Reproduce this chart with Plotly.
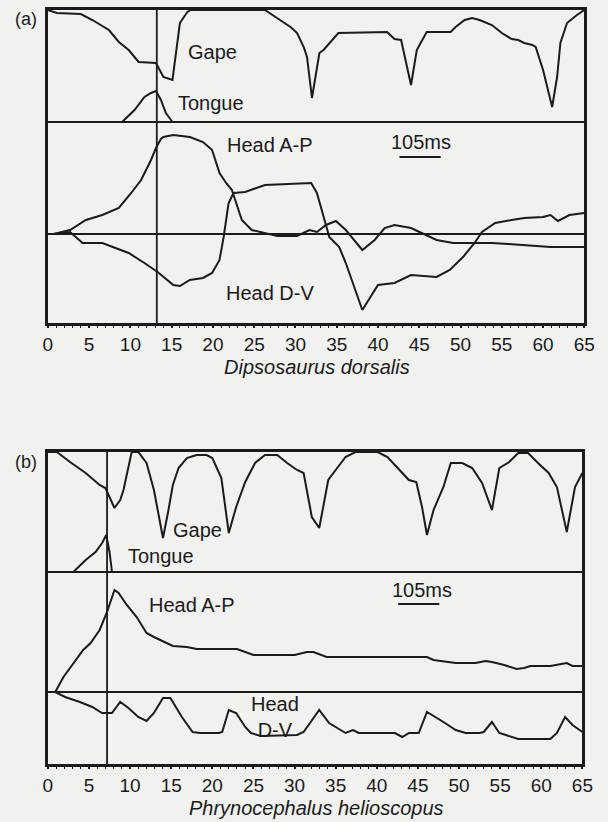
import plotly.graph_objects as go

# ---------------- DATA ----------------
# Panel (a) Dipsosaurus dorsalis
a_gape_x = [0, 1.1, 4.0, 5.4, 7.4, 8.6, 9.8, 11.0, 13.1, 14.0, 15.1, 16.0, 16.9, 17.3,
            26.3, 28.2, 29.4, 30.2, 31.0, 31.4, 32.0, 32.9, 33.4, 35.2, 41.1, 42.0, 42.8,
            44.0, 44.7, 45.9, 48.8, 49.4, 50.5, 51.4, 52.3, 53.8, 55.0, 56.2, 57.0, 57.7,
            58.7, 59.1, 60.0, 61.1, 61.7, 62.1, 62.9, 64.1, 65.0]
a_gape_depth = [0, 3, 4, 10, 20, 32, 40, 52, 53, 67, 70, 13, 2, 0,
                0, 10, 17, 23, 37, 47, 88, 43, 40, 23, 22, 29, 30,
                75, 40, 22, 22, 17, 10, 8, 10, 15, 23, 29, 30, 33,
                35, 37, 60, 97, 67, 33, 13, 5, 0]

a_tongue_x = [9.0, 10.5, 11.7, 12.5, 13.1, 13.7, 14.3, 15.1]
a_tongue = [0, 12, 25, 29, 31, 22, 9, 0]

a_ap_x = [0, 0.7, 2.7, 4.6, 6.6, 8.6, 10.1, 11.3, 12.5, 13.1, 13.7, 14.0, 15.2, 17.2,
          18.8, 19.9, 20.8, 21.6, 22.3, 22.8, 23.5, 24.7, 26.3, 27.8, 30.2, 31.7, 32.6,
          33.7, 34.9, 36.1, 38.1, 39.6, 40.8, 42.0, 44.0, 45.9, 47.1, 49.1, 53.8, 55.8,
          60.9, 65.0]
a_ap = [0, 0, 4, 14, 19, 26, 41, 54, 74, 86, 95, 97, 99, 97,
        92, 84, 61, 51, 44, 31, 14, 4, 1, -2, -2, 4, 2,
        9, 13, 4, -16, -6, 6, 9, 6, -1, -6, -9, -9, -10,
        -13, -13]

a_dv_x = [0, 0.7, 2.7, 4.2, 6.6, 9.8, 11.7, 13.3, 15.2, 16.0, 17.2, 18.8, 19.9, 20.8,
          21.3, 21.9, 22.5, 23.9, 26.3, 30.2, 31.9, 32.6, 33.4, 34.1, 35.3, 36.1, 38.1,
          40.0, 42.0, 44.0, 47.1, 48.7, 50.3, 51.7, 52.6, 54.2, 56.2, 57.7, 60.0, 60.9,
          61.8, 63.2, 65.0]
a_dv = [0, 0, 2, -9, -9, -19, -29, -38, -51, -52, -46, -44, -39, -26,
        -3, 31, 41, 42, 49, 50, 51, 41, 17, -3, -13, -29, -76,
        -51, -49, -41, -43, -36, -23, -9, 2, 11, 14, 16, 17, 19,
        13, 19, 21]

# Panel (b) Phrynocephalus helioscopus
b_gape_x = [0, 1.1, 2.7, 4.6, 6.3, 7.0, 7.5, 8.1, 8.8, 9.2, 9.8, 10.2, 11.0, 12.0,
            12.9, 14.0, 14.6, 15.2, 15.9, 16.9, 18.1, 19.3, 20.0, 21.1, 22.0, 22.9, 24.0,
            25.2, 26.4, 27.9, 29.1, 30.3, 31.1, 32.1, 33.0, 34.1, 35.0, 36.2, 37.4, 40.1,
            41.3, 43.0, 43.9, 44.8, 45.5, 46.1, 46.9, 48.1, 49.0, 50.4, 51.6, 52.8, 54.0,
            54.9, 56.1, 57.2, 58.4, 59.6, 60.9, 61.9, 63.1, 64.1, 65.0]
b_gape_depth = [0, 0, 10, 21, 33, 36, 45, 56, 48, 38, 15, 0, 0, 11,
                38, 86, 61, 33, 16, 6, 3, 3, 6, 26, 81, 55, 30,
                11, 3, 3, 11, 18, 21, 65, 76, 28, 18, 5, 0, 0,
                5, 20, 28, 30, 55, 83, 58, 35, 11, 11, 16, 31, 58,
                16, 10, 1, 1, 11, 21, 35, 80, 35, 21]

b_tongue_x = [3.1, 4.6, 5.8, 6.6, 7.1, 7.5, 7.8]
b_tongue = [0, 12, 20, 29, 37, 20, 0]

b_ap_x = [0, 0.9, 1.9, 3.1, 4.3, 5.2, 6.3, 7.2, 8.1, 8.6, 9.6, 10.8, 12.0, 12.9, 14.1,
          15.2, 16.9, 18.1, 23.0, 25.0, 30.0, 31.5, 32.3, 33.9, 46.1, 46.9, 49.6, 52.0,
          53.2, 54.0, 55.5, 57.0, 57.9, 58.7, 61.1, 63.1, 63.8, 65.0]
b_ap = [0, 0, 15, 29, 42, 49, 62, 80, 102, 99, 87, 75, 59, 55, 50,
        46, 45, 43, 43, 37, 37, 40, 40, 35, 35, 32, 29, 29,
        31, 30, 27, 23, 24, 26, 26, 29, 26, 26]

b_dv_x = [0, 0.9, 2.1, 3.9, 5.4, 6.6, 7.8, 8.8, 9.8, 11.0, 12.0, 12.9, 14.0, 14.9, 16.3,
          17.6, 18.5, 20.8, 21.2, 22.0, 22.9, 24.0, 24.7, 25.9, 30.3, 31.1, 33.0, 34.2,
          36.2, 37.1, 37.8, 42.2, 43.1, 43.9, 45.1, 46.1, 48.1, 49.6, 50.8, 52.5, 53.0,
          54.0, 54.9, 57.2, 61.1, 61.9, 62.9, 63.8, 65.0]
b_dv = [0, 0, -5, -10, -15, -21, -21, -10, -16, -25, -29, -21, -6, -6, -25,
        -40, -41, -41, -40, -18, -21, -35, -41, -44, -43, -40, -18, -31,
        -41, -38, -41, -41, -45, -41, -41, -20, -30, -38, -41, -41, -40,
        -30, -41, -47, -47, -41, -25, -33, -40]

# event markers (tongue-prey contact) and scale bar (frames)
a_contact = 13.2
b_contact = 7.2
scale_bar = [42.6, 47.6]
tick_vals = list(range(0, 66, 5))
tick_text = [str(v) for v in tick_vals]

# ---------------- FIGURE ----------------
W, H = 608, 822
INK = "#1b1b1b"
BG = "#f1f1ef"
FONT = "Liberation Sans, Arial, Helvetica, sans-serif"

# per panel: y-range in display units, with divider and top level
A = dict(bottom=-89, top=224, div=112)
B = dict(bottom=-72, top=240, div=120)

fig = go.Figure()

def add_line(x, y, xa, ya):
    fig.add_trace(go.Scatter(x=x, y=y, mode="lines", xaxis=xa, yaxis=ya,
                             line=dict(color=INK, width=2), showlegend=False,
                             hoverinfo="skip"))

add_line(a_gape_x, [A["top"] - d for d in a_gape_depth], "x", "y")
add_line(a_tongue_x, [A["div"] + v for v in a_tongue], "x", "y")
add_line(a_ap_x, a_ap, "x", "y")
add_line(a_dv_x, a_dv, "x", "y")

add_line(b_gape_x, [B["top"] - d for d in b_gape_depth], "x2", "y2")
add_line(b_tongue_x, [B["div"] + v for v in b_tongue], "x2", "y2")
add_line(b_ap_x, b_ap, "x2", "y2")
add_line(b_dv_x, b_dv, "x2", "y2")

def px_x(p):
    return p / W

def px_y(p):
    return 1 - p / H

xaxis_common = dict(range=[0, 65], showline=True, mirror=True, linecolor=INK, linewidth=2.5,
                    showgrid=False, zeroline=False, ticks="outside", ticklen=2, tickwidth=1.5,
                    tickcolor=INK, tickvals=tick_vals, ticktext=tick_text,
                    tickfont=dict(family=FONT, size=19, color=INK),
                    minor=dict(ticks="outside", ticklen=2, tickwidth=1, tickcolor=INK, dtick=1),
                    fixedrange=True)
yaxis_common = dict(showline=True, mirror=True, linecolor=INK, linewidth=2.5, showgrid=False,
                    zeroline=False, showticklabels=False, ticks="", fixedrange=True)

fig.update_layout(
    width=W, height=H, margin=dict(l=0, r=0, t=0, b=0),
    paper_bgcolor=BG, plot_bgcolor=BG, showlegend=False,
    xaxis=dict(xaxis_common, domain=[px_x(44), px_x(595)], anchor="y"),
    yaxis=dict(yaxis_common, domain=[px_y(323), px_y(10)], range=[A["bottom"], A["top"]], anchor="x"),
    xaxis2=dict(xaxis_common, domain=[px_x(44), px_x(593)], anchor="y2"),
    yaxis2=dict(yaxis_common, domain=[px_y(764), px_y(452)], range=[B["bottom"], B["top"]], anchor="x2"),
)

# divider, baseline and contact lines
for xr, yr, P, c in (("x", "y", A, a_contact), ("x2", "y2", B, b_contact)):
    for yv in (P["div"], 0):
        fig.add_shape(type="line", xref=xr + " domain", yref=yr, x0=0, x1=1, y0=yv, y1=yv,
                      line=dict(color=INK, width=1.8))
    fig.add_shape(type="line", xref=xr, yref=yr + " domain", x0=c, x1=c, y0=0, y1=1,
                  line=dict(color=INK, width=1.8))

# scale bars
fig.add_shape(type="line", xref="x", yref="y", x0=scale_bar[0], x1=scale_bar[1], y0=77, y1=77,
              line=dict(color=INK, width=2))
fig.add_shape(type="line", xref="x2", yref="y2", x0=scale_bar[0], x1=scale_bar[1], y0=88, y1=88,
              line=dict(color=INK, width=2))

def label(text, xr, yr, x, y, size=20, italic=False):
    fig.add_annotation(text=text, xref=xr, yref=yr, x=x, y=y, showarrow=False,
                       font=dict(family=FONT, size=size, color=INK,
                                 style="italic" if italic else "normal"),
                       xanchor="center", yanchor="middle")

# panel (a) labels
label("Gape", "x", "y", 19.9, 182)
label("Tongue", "x", "y", 19.8, 131)
label("Head A-P", "x", "y", 26.9, 89)
label("Head D-V", "x", "y", 26.9, -59)
label("105ms", "x", "y", 45.2, 92)
# panel (b) labels
label("Gape", "x2", "y2", 18.2, 162)
label("Tongue", "x2", "y2", 13.7, 136)
label("Head A-P", "x2", "y2", 17.5, 87)
label("Head<br>D-V", "x2", "y2", 27.6, -25)
label("105ms", "x2", "y2", 45.5, 102)

# panel letters and species names
label("(a)", "paper", "paper", px_x(22), px_y(19), size=18)
label("(b)", "paper", "paper", px_x(22), px_y(462), size=18)
label("Dipsosaurus dorsalis", "paper", "paper", px_x(320), px_y(367), size=20, italic=True)
label("Phrynocephalus helioscopus", "paper", "paper", px_x(320), px_y(808), size=20, italic=True)

fig.write_html("out.html", config={"displayModeBar": False},
               post_script="document.body.style.margin='0';document.body.style.overflow='hidden';")
